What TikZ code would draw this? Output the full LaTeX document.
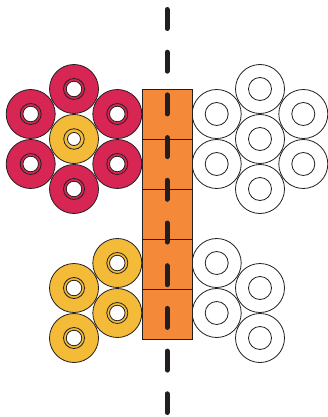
\documentclass[tikz,border=0pt]{standalone}
\usepackage[dvipsnames]{xcolor}
\usepackage{tikz}
\usetikzlibrary{positioning}
\definecolor{rose}{RGB}{215,38,84}
\definecolor{gold}{RGB}{243,187,56}
\definecolor{tangerine}{RGB}{244,137,58}
\definecolor{ink}{RGB}{35,31,32}
\tikzset{spool/.style={circle, draw=ink, line width=0.8pt, minimum size=49pt, inner sep=0pt}}
\tikzset{ring/.style args={#1}{circle, draw=ink, line width=0.8pt, minimum size=#1, inner sep=0pt}}
\tikzset{hole/.style args={#1}{ring=#1, fill=white}}
\tikzset{slab/.style={draw=ink, fill=tangerine, line width=0.8pt, minimum size=50pt, inner sep=0pt}}
\tikzset{midline/.style={draw=ink, line width=5pt, line cap=round, dash pattern=on 19pt off 23.7pt}}

\begin{document}
\begin{tikzpicture}[x=1pt, y=-1pt]
	\useasboundingbox (0,0) rectangle (328,417);
	% left flower
	\foreach \n/\x/\y in {rt/74/89, rul/30.7/114, rur/117.3/114, rll/30.7/164, rlr/117.3/164, rb/74/189} {
		\node[spool, fill=rose] (\n) at (\x,\y) {};
		\node[ring=21pt] (\n-r) at (\n) {};
		\node[hole=15.5pt] (\n-h) at (\n) {};
	}
	\node[spool, fill=gold] (yc) at (74,139) {};
	\node[ring=20.5pt] (yc-r) at (yc) {};
	\node[hole=13pt] (yc-h) at (yc) {};
	% right flower
	\foreach \n/\x/\y in {wt/260/89, wul/216.7/114, wur/303.3/114, wc/260/139, wll/216.7/164, wlr/303.3/164, wb/260/189} {
		\node[spool, fill=white] (\n) at (\x,\y) {};
		\node[hole=23pt] (\n-h) at (\n) {};
	}
	% lower pairs
	\foreach \n/\x/\y in {ya/117.3/263, yb/117.3/313, yd/74/288, ye/74/338} {
		\node[spool, fill=gold] (\n) at (\x,\y) {};
		\node[ring=21pt] (\n-r) at (\n) {};
		\node[hole=15.5pt] (\n-h) at (\n) {};
	}
	\foreach \n/\x/\y in {wa/216.7/263, wbb/216.7/313, wd/260/288, we/260/338} {
		\node[spool, fill=white] (\n) at (\x,\y) {};
		\node[hole=23pt] (\n-h) at (\n) {};
	}
	% column
	\foreach \k in {1,...,5}
		\node[slab] (b\k) at (167,64+50*\k) {};
	\coordinate (top) at (167,9.5);
	\coordinate (bot) at (167,412.5);
	\draw[midline] (top) -- (bot);
\end{tikzpicture}
\end{document}
